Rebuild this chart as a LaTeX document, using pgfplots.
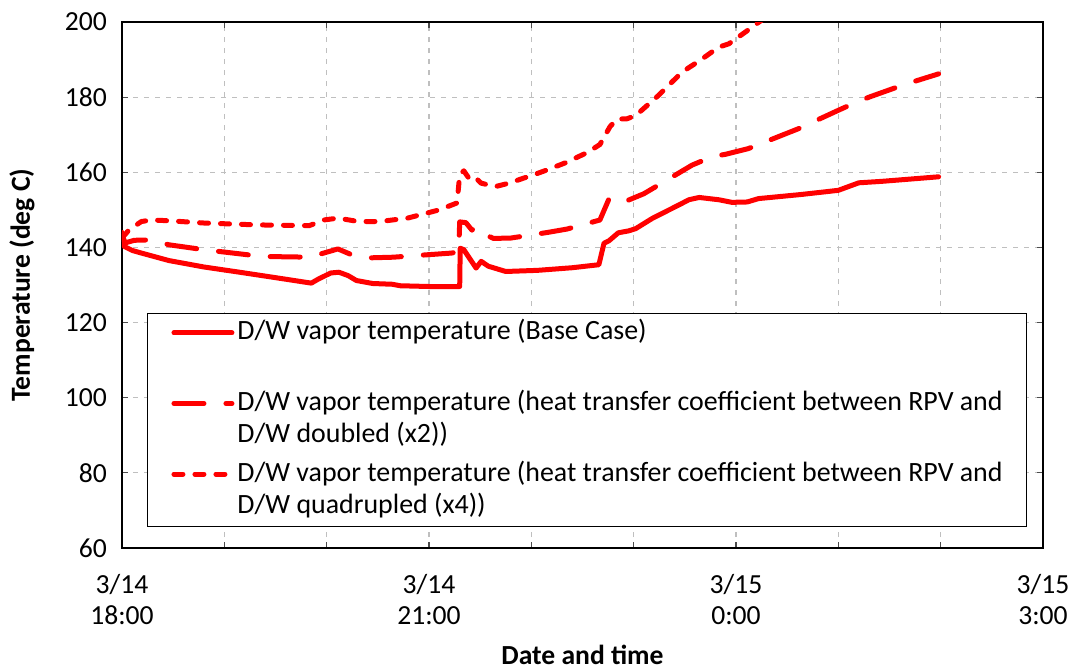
\documentclass[border=0pt]{standalone}
\usepackage{fontspec}
\setmainfont{Carlito}
\usepackage{pgfplots}
\pgfplotsset{compat=1.18}
\definecolor{gridgray}{HTML}{BFBFBF}
\begin{document}
\begin{tikzpicture}
\begin{axis}[
  name=ax,
  scale only axis,
  width=460.5pt, height=263pt,
  xmin=0, xmax=9, ymin=60, ymax=200,
  xtick={0,3,6,9},
  minor xtick={1,2,4,5,7,8},
  xticklabels={{3/14\\18:00},{3/14\\21:00},{3/15\\0:00},{3/15\\3:00}},
  xticklabel style={align=center, font=\fontsize{13.8}{15.5}\selectfont, yshift=-9.5pt},
  ytick={60,80,...,200},
  yticklabel style={font=\fontsize{13.8}{16}\selectfont, xshift=-4pt},
  /pgf/number format/assume math mode=true,
  xmajorgrids, xminorgrids, ymajorgrids,
  grid style={gridgray, dash pattern=on 2.5pt off 3pt, line width=0.6pt},
  axis line style={black, line width=0.7pt},
  tick style={black!70, line width=0.6pt},
  major tick length=3pt, minor tick length=3pt,
  xlabel={Date and time},
  ylabel={Temperature (deg C)},
  label style={font=\fontsize{13.8}{16}\selectfont\bfseries},
  xlabel style={at={(axis description cs:0.5,-0.2034)}, anchor=center},
  ylabel style={at={(axis description cs:-0.1086,0.5)}, anchor=center},
  legend cell align=left,
  legend style={at={(rel axis cs:0.027,0.447)}, anchor=north west,
    draw=black, line width=0.6pt, fill=white,
    font=\fontsize{13.95}{16}\selectfont,
    inner xsep=12pt, inner ysep=2pt, row sep=3.3pt, column sep=1.5pt,
    nodes={inner sep=0pt, text depth=, text height=}, cells={anchor=base west}},
  legend image code/.code={\draw[#1] (0pt,3.5pt) -- (29pt,3.5pt);},
  every axis plot/.append style={red, line width=2.5pt, line join=round, line cap=round},
]
\addplot[solid] coordinates {
(0,144) (0.02,140.3) (0.10,139.2) (0.19,138.5) (0.46,136.5) (0.80,134.8) (1.15,133.4) (1.49,132.0) (1.85,130.5) (1.92,131.6) (2.04,133.2) (2.12,133.4) (2.21,132.5) (2.29,131.2) (2.45,130.4) (2.64,130.2) (2.72,129.8) (3.0,129.6) (3.30,129.6) (3.305,139.8) (3.34,139.4) (3.46,134.5) (3.51,136.3) (3.58,135.0) (3.75,133.6) (4.06,133.9) (4.4,134.6) (4.66,135.4) (4.71,141.1) (4.76,141.8) (4.85,143.9) (4.95,144.4) (5.02,145.0) (5.18,147.7) (5.47,151.7) (5.54,152.7) (5.64,153.3) (5.83,152.7) (5.96,152.0) (6.11,152.1) (6.22,153.0) (6.64,154.1) (7.0,155.2) (7.2,157.2) (7.43,157.6) (7.98,158.8)
};
\addlegendentry{\parbox[t]{382.5pt}{\strut D/W vapor temperature (Base Case)\\\strut}}
\addplot[dash pattern=on 15pt off 11pt] coordinates {
(0,143.5) (0.03,141.2) (0.12,141.9) (0.27,142.0) (0.46,140.7) (0.80,139.4) (1.37,137.6) (1.85,137.4) (1.92,138.1) (2.11,139.6) (2.24,138.1) (2.38,137.2) (2.65,137.4) (3.01,138.1) (3.22,138.5) (3.29,138.9) (3.30,146.8) (3.36,146.6) (3.42,144.6) (3.45,145.5) (3.52,143.8) (3.63,142.4) (3.80,142.5) (4.16,144.0) (4.35,144.9) (4.67,147.3) (4.76,153.0) (4.82,153.6) (4.95,152.6) (5.10,154.3) (5.28,157.2) (5.57,161.9) (5.77,164.2) (5.90,164.8) (6.12,166.3) (6.61,171.6) (7.0,176.5) (7.13,178.1) (7.30,180.0) (7.65,183.4) (7.98,186.2)
};
\addlegendentry{\parbox[t]{382.5pt}{\strut D/W vapor temperature (heat transfer coefficient between RPV and\\D/W doubled (x2))\strut}}
\addplot[dash pattern=on 4.5pt off 6pt] coordinates {
(0,142.5) (0.07,144.7) (0.19,146.9) (0.29,147.3) (0.46,147.1) (0.80,146.5) (1.32,146.0) (1.83,145.8) (1.97,147.3) (2.11,147.8) (2.31,146.9) (2.52,146.9) (2.79,147.8) (3.10,150.0) (3.27,151.8) (3.28,153.5) (3.30,159.3) (3.34,160.4) (3.40,158.0) (3.46,158.4) (3.51,157.1) (3.65,156.2) (3.78,157.1) (4.06,159.7) (4.17,160.8) (4.33,162.5) (4.55,165.3) (4.67,167.4) (4.77,172.2) (4.84,174.2) (4.93,174.2) (5.02,175.1) (5.24,180.4) (5.47,186.6) (5.67,190.2) (5.83,193.3) (5.93,194.2) (6.09,197.3) (6.22,199.9) (6.35,202.4)
};
\addlegendentry{\parbox[t]{382.5pt}{\strut D/W vapor temperature (heat transfer coefficient between RPV and\\D/W quadrupled (x4))\strut}}
\end{axis}
\pgfresetboundingbox
\path[use as bounding box] ([xshift=-61pt,yshift=-61.5pt]ax.south west) rectangle ([xshift=17.5pt,yshift=11pt]ax.north east);
\end{tikzpicture}
\end{document}
